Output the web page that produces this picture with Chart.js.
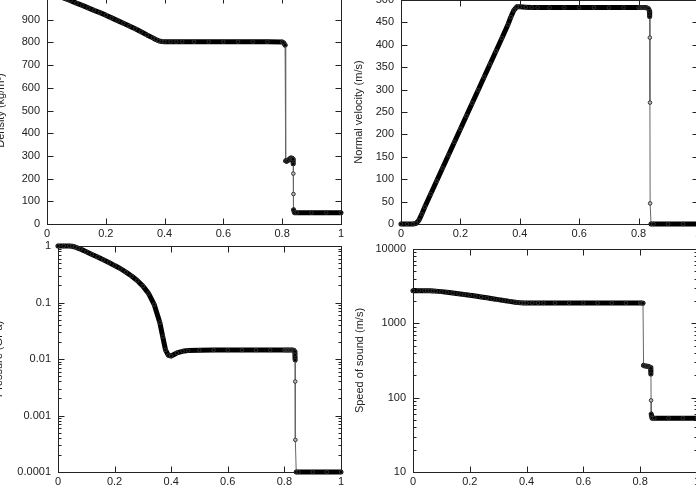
<!DOCTYPE html>
<html>
<head>
<meta charset="utf-8">
<script src="https://cdn.jsdelivr.net/npm/chart.js@4.4.0/dist/chart.umd.min.js"></script>
<style>
html, body { margin: 0; padding: 0; background: #fff; }
body { width: 696px; height: 489px; overflow: hidden; position: relative; }
canvas { position: absolute; }
</style>
</head>
<body>
<canvas id="densityChart" width="353" height="267" style="left:-6px;top:-23px"></canvas>
<canvas id="velocityChart" width="352" height="264" style="left:352px;top:-20px"></canvas>
<canvas id="pressureChart" width="355" height="266" style="left:-8px;top:226px"></canvas>
<canvas id="soundChart" width="350" height="263" style="left:353px;top:229px"></canvas>
<script>
// 网格位置 (四个面板共用)
var cellX = [0, 0.02, 0.04, 0.05, 0.06, 0.07, 0.08,
    0.10, 0.12, 0.14, 0.16, 0.18, 0.20, 0.22, 0.24, 0.26, 0.28, 0.30, 0.32, 0.34,
    0.36, 0.37, 0.38, 0.39, 0.40, 0.42, 0.44, 0.46,
    0.50, 0.55, 0.60, 0.65, 0.70, 0.75, 0.80,
    0.805, 0.81, 0.812, 0.815, 0.82, 0.825, 0.83, 0.834,
    0.837, 0.8375, 0.838, 0.8385, 0.839,
    0.842, 0.85, 0.90, 0.95, 1.0];

// 密度 (kg/m³)
var densityValues = [1000, 1000, 1000, 999, 994, 989, 984,
    973, 963, 952, 941, 931, 920, 908, 896, 884, 872, 860, 847, 833,
    820, 813, 807, 804, 803, 803, 803, 803,
    803, 803, 803, 803, 803, 803, 802,
    798, 788, 278, 276, 280, 287, 291, 290,
    285, 265, 222, 132, 62,
    50, 50, 50, 50, 50];

// 法向速度 (m/s)
var velocityValues = [0, 0, 0, 1, 8, 22, 38,
    67, 96, 125, 154, 183, 212, 241, 270, 299, 328, 357, 386, 415,
    445, 462, 477, 485, 485, 484, 483, 483,
    483, 483, 483, 483, 483, 483, 483,
    483, 483, 483, 483, 483, 483, 482, 480,
    475, 463, 416, 271, 46,
    0, 0, 0, 0, 0];

// 压力 (GPa)
var pressureValues = [1, 1, 1, 0.99, 0.96, 0.92, 0.88,
    0.79, 0.71, 0.64, 0.57, 0.51, 0.45, 0.40, 0.345, 0.295, 0.245, 0.195, 0.145, 0.092,
    0.044, 0.025, 0.0145, 0.0116, 0.0113, 0.0128, 0.0137, 0.0141,
    0.0143, 0.0144, 0.0144, 0.0144, 0.0144, 0.0144, 0.0144,
    0.0144, 0.0144, 0.0144, 0.0144, 0.0144, 0.0144, 0.0144, 0.0142,
    0.0135, 0.0118, 0.0096, 0.004, 0.00037,
    0.0001, 0.0001, 0.0001, 0.0001, 0.0001];

// 声速 (m/s)
var soundValues = [2750, 2750, 2750, 2748, 2742, 2730, 2712,
    2670, 2620, 2565, 2505, 2445, 2385, 2325, 2265, 2205, 2145, 2085, 2030, 1975,
    1925, 1900, 1885, 1880, 1880, 1880, 1880, 1880,
    1880, 1880, 1880, 1880, 1880, 1880, 1880,
    1875, 1860, 272, 268, 266, 264, 262, 258,
    254, 248, 208, 92, 60,
    53, 53, 53, 53, 53];

// 刻度
var xTickValues = [0, 0.2, 0.4, 0.6, 0.8, 1];
var densityTicks = [0, 100, 200, 300, 400, 500, 600, 700, 800, 900, 1000];
var velocityTicks = [0, 50, 100, 150, 200, 250, 300, 350, 400, 450, 500];
var pressureTicks = [0.0001, 0.001, 0.01, 0.1, 1];
var soundTicks = [10, 100, 1000, 10000];

var FONT = { family: "'Liberation Sans', Arial, Helvetica, sans-serif", size: 11 };
var TEXT_COLOR = '#222';

// 判断是否为竖直跳变线段 (像素)
function isJump(a, b) {
    return Math.abs(b.y - a.y) > 8 && Math.abs(b.x - a.x) < 2;
}

// 孤立点: 两侧都是跳变线段
function isolatedPoint(ctx) {
    var chart = ctx.chart;
    var sx = chart.scales.x, sy = chart.scales.y;
    var data = ctx.dataset.data;
    var i = ctx.dataIndex;
    if (!sx || !sy || !data[i]) return false;
    function px(p) {
        return { x: sx.getPixelForValue(p.x), y: sy.getPixelForValue(p.y) };
    }
    var here = px(data[i]);
    var result = true;
    [i - 1, i + 1].forEach(function(j) {
        if (data[j] && !isJump(here, px(data[j]))) {
            result = false;
        }
    });
    return result;
}

// 边框与内向刻度 (gnuplot 风格)
var gnuFrame = {
    id: 'gnuFrame',
    beforeDatasetsDraw: function(chart) {
        var a = chart.chartArea;
        var c = chart.ctx;
        var l = Math.round(a.left) + 0.5;
        var r = Math.round(a.right) + 0.5;
        var t = Math.round(a.top) + 0.5;
        var b = Math.round(a.bottom) + 0.5;
        c.save();
        c.strokeStyle = '#222';
        c.lineWidth = 1;
        c.strokeRect(l, t, r - l, b - t);
        c.beginPath();
        chart.scales.x.ticks.forEach(function(tk) {
            var x = Math.round(chart.scales.x.getPixelForValue(tk.value)) + 0.5;
            c.moveTo(x, b); c.lineTo(x, b - 6);
            c.moveTo(x, t); c.lineTo(x, t + 6);
        });
        chart.scales.y.ticks.forEach(function(tk) {
            var y = Math.round(chart.scales.y.getPixelForValue(tk.value)) + 0.5;
            var len = tk.major === false ? 3 : 6;
            c.moveTo(l, y); c.lineTo(l + len, y);
            c.moveTo(r, y); c.lineTo(r - len, y);
        });
        c.stroke();
        c.restore();
    }
};

function makePanel(id, values, yConf) {
    var points = cellX.map(function(x, i) {
        return { x: x, y: values[i] };
    });
    var yTicks = [];
    if (yConf.type === 'logarithmic') {
        yConf.ticks.forEach(function(v, k) {
            yTicks.push({ value: v, major: true });
            if (k < yConf.ticks.length - 1) {
                for (var m = 2; m <= 9; m++) {
                    yTicks.push({ value: v * m, major: false });
                }
            }
        });
    } else {
        yTicks = yConf.ticks.map(function(v) { return { value: v, major: true }; });
    }

    return new Chart(document.getElementById(id), {
        type: 'line',
        data: {
            datasets: [{
                data: points,
                borderColor: '#000',
                borderWidth: 5,
                borderCapStyle: 'round',
                borderJoinStyle: 'round',
                tension: 0,
                clip: false,
                pointRadius: 1.8,
                pointBorderWidth: 1,
                pointBorderColor: '#333',
                pointBackgroundColor: function(ctx) {
                    return isolatedPoint(ctx) ? '#bbb' : '#000';
                },
                segment: {
                    borderWidth: function(ctx) { return isJump(ctx.p0, ctx.p1) ? 1 : 5; },
                    borderColor: function(ctx) { return isJump(ctx.p0, ctx.p1) ? '#666' : '#000'; }
                }
            }]
        },
        options: {
            responsive: false,
            animation: false,
            devicePixelRatio: 1,
            layout: { padding: { left: 0, top: 20, right: 5, bottom: 0 } },
            plugins: {
                legend: { display: false },
                tooltip: { enabled: false }
            },
            scales: {
                x: {
                    type: 'linear',
                    min: 0,
                    max: 1,
                    grid: { display: false, drawTicks: false },
                    border: { display: false },
                    afterBuildTicks: function(s) {
                        s.ticks = xTickValues.map(function(v) { return { value: v }; });
                    },
                    afterFit: function(s) { s.height = 20; },
                    ticks: {
                        autoSkip: false,
                        maxRotation: 0,
                        padding: 3,
                        color: TEXT_COLOR,
                        font: FONT,
                        callback: function(v) { return String(v); }
                    }
                },
                y: {
                    type: yConf.type,
                    min: yConf.min,
                    max: yConf.max,
                    grid: { display: false, drawTicks: false },
                    border: { display: false },
                    afterBuildTicks: function(s) {
                        s.ticks = yTicks.map(function(t) { return { value: t.value, major: t.major }; });
                    },
                    afterFit: function(s) { s.width = yConf.width; },
                    ticks: {
                        autoSkip: false,
                        padding: 7,
                        color: TEXT_COLOR,
                        font: FONT,
                        callback: function(v) {
                            return yConf.ticks.indexOf(v) >= 0 ? String(v) : '';
                        }
                    },
                    title: {
                        display: true,
                        text: yConf.title,
                        color: TEXT_COLOR,
                        font: FONT,
                        padding: 0
                    }
                }
            }
        },
        plugins: [gnuFrame]
    });
}

makePanel('densityChart', densityValues, {
    type: 'linear', min: 0, max: 1000, ticks: densityTicks, width: 53, title: 'Density (kg/m³)'
});
makePanel('velocityChart', velocityValues, {
    type: 'linear', min: 0, max: 500, ticks: velocityTicks, width: 49, title: 'Normal velocity (m/s)'
});
makePanel('pressureChart', pressureValues, {
    type: 'logarithmic', min: 0.0001, max: 1, ticks: pressureTicks, width: 66, title: 'Pressure (GPa)'
});
makePanel('soundChart', soundValues, {
    type: 'logarithmic', min: 10, max: 10000, ticks: soundTicks, width: 60, title: 'Speed of sound (m/s)'
});
</script>
</body>
</html>
